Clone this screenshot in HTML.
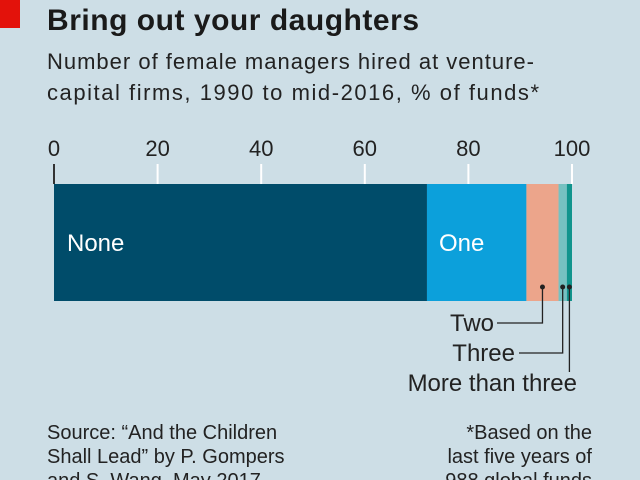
<!DOCTYPE html>
<html><head><meta charset="utf-8"><style>
body{margin:0;width:640px;height:480px;overflow:hidden;background:#cddee6;font-family:"Liberation Sans",sans-serif}
svg{display:block}
</style></head><body>
<svg width="640" height="480" font-family="Liberation Sans, sans-serif">
<rect x="0" y="0" width="20" height="28" fill="#e3120b"/>
<text x="47" y="30" font-size="30" font-weight="bold" fill="#1a1a1a" textLength="372">Bring out your daughters</text>
<text x="47" y="69" font-size="22" fill="#222" textLength="487">Number of female managers hired at venture-</text>
<text x="47" y="100" font-size="22" fill="#222" textLength="492">capital firms, 1990 to mid-2016, % of funds*</text>
<g id="axis"></g>
<g id="bars"></g>
<g id="notes"></g>
<text x="47" y="439" font-size="20" fill="#222">Source: “And the Children</text>
<text x="47" y="463" font-size="20" fill="#222">Shall Lead” by P. Gompers</text>
<text x="47" y="487" font-size="20" fill="#222">and S. Wang, May 2017</text>
<text x="592" y="439" font-size="20" fill="#222" text-anchor="end">*Based on the</text>
<text x="592" y="463" font-size="20" fill="#222" text-anchor="end">last five years of</text>
<text x="592" y="487" font-size="20" fill="#222" text-anchor="end">988 global funds</text>
</svg>
<script>
const categories=["None","One","Two","Three","More than three"];
const values=[72,19.2,6.2,1.6,1.0];
const colors=["#004c6a","#0ca0db","#eca58b","#76c1c1","#11948d"];
const ticks=[0,20,40,60,80,100];
const NS="http://www.w3.org/2000/svg";
const x=v=>54+v*5.18;
const Y0=184,Y1=301;
function mk(t,a,p){const e=document.createElementNS(NS,t);for(const k in a)e.setAttribute(k,a[k]);p.appendChild(e);return e;}
const ax=document.getElementById('axis');
ticks.forEach((t,i)=>{
 const l=mk('line',{x1:x(t),x2:x(t),y1:164,y2:Y0,stroke:i==0?'#333':'#fff','stroke-width':2},ax);
 
 
 const tx=mk('text',{x:x(t),y:156,'font-size':22,fill:'#222','text-anchor':'middle'},ax);
 tx.textContent=t;
 
 
});
const bg=document.getElementById('bars');
let c=0;const mids=[];
values.forEach((v,i)=>{
 const r=mk('rect',{x:x(c),y:Y0,width:x(c+v)-x(c),height:Y1-Y0,fill:colors[i]},bg);
 
 
 mids.push(x(c+v/2));c+=v;
});
[0,1].forEach(i=>{
 const s=values.slice(0,i).reduce((a,b)=>a+b,0);
 const t=mk('text',{x:x(s)+(i==0?13:12),y:251,'font-size':24,fill:'#fff'},bg);
 t.textContent=categories[i];
 
 
});
const nt=document.getElementById('notes');
const ly=[323,353,383];
[2,3,4].forEach((i,k)=>{
 const mx=mids[i];
 mk('circle',{cx:mx,cy:287,r:2.5,fill:'#222'},nt);
 const t=mk('text',{x:[494,515,577][k],y:ly[k]+8,'font-size':24,fill:'#222','text-anchor':'end'},nt);
 t.textContent=categories[i];
 
 
 const d=k<2?`M${mx},287V${ly[k]}H${[497,519][k]}`:`M${mx},287V372`;
 const p=mk('path',{d:d,fill:'none',stroke:'#222','stroke-width':1.3},nt);
 
 
});
</script>
</body></html>
